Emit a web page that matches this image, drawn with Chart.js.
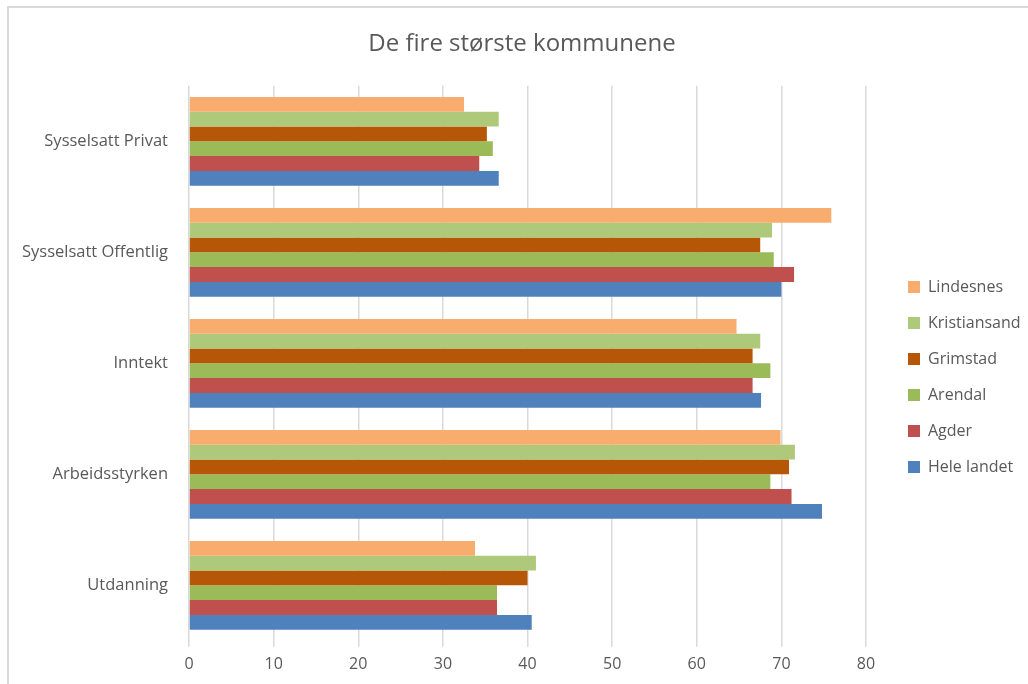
<!DOCTYPE html>
<html>
<head>
<meta charset="utf-8">
<script src="https://cdn.jsdelivr.net/npm/chart.js@4/dist/chart.umd.min.js"></script>
<style>
    html, body { margin: 0; padding: 0; background: #fff; }
    #wrap { position: relative; width: 1028px; height: 684px; overflow: hidden; }
    #frame { position: absolute; left: 7px; top: 6px; right: -10px; bottom: -10px; border: 2px solid #d9d9d9; }
    canvas { position: absolute; left: 0; top: 0; }
</style>
</head>
<body>
<div id="wrap">
    <div id="frame"></div>
    <canvas id="chart" width="1028" height="684"></canvas>
</div>
<script>
// Categories (top to bottom)
const categories = ['Sysselsatt Privat', 'Sysselsatt Offentlig', 'Inntekt', 'Arbeidsstyrken', 'Utdanning'];

// Series values, one per category
const lindesnes    = [32.5, 75.9, 64.7, 69.9, 33.8];
const kristiansand = [36.6, 68.9, 67.5, 71.6, 41.0];
const grimstad     = [35.2, 67.5, 66.6, 70.9, 40.0];
const arendal      = [35.9, 69.1, 68.7, 68.7, 36.4];
const agder        = [34.3, 71.5, 66.6, 71.2, 36.4];
const heleLandet   = [36.6, 70.0, 67.6, 74.8, 40.5];

const seriesNames = ['Lindesnes', 'Kristiansand', 'Grimstad', 'Arendal', 'Agder', 'Hele landet'];
const seriesData = [lindesnes, kristiansand, grimstad, arendal, agder, heleLandet];
const seriesColors = ['#f8ac6e', '#afc97b', '#b65708', '#9bbb59', '#c0504d', '#4f81bd'];

// Value axis ticks
const xTicks = [0, 10, 20, 30, 40, 50, 60, 70, 80];

const fontFamily = "'Open Sans', 'Noto Sans', sans-serif";
const textColor = '#595959';

const datasets = seriesNames.map((name, i) => ({
    label: name,
    data: seriesData[i],
    backgroundColor: seriesColors[i],
    borderWidth: 0,
    categoryPercentage: 0.8,
    barPercentage: 1.0
}));

// Keep the legend column wide and move it to where the reference has it
const legendPlace = {
    id: 'legendPlace',
    afterInit(chart) {
        const legend = chart.legend;
        const fit = legend.fit;
        legend.fit = function() {
            fit.call(this);
            this.width = 162;
        };
    },
    afterLayout(chart) {
        const legend = chart.legend;
        legend.left += 22;
        legend.right += 22;
        legend.top += 36;
        legend.bottom += 36;
        // title sits a little right of the canvas centre
        chart.titleBlock.left += 8;
        chart.titleBlock.right += 8;
    }
};

new Chart(document.getElementById('chart'), {
    type: 'bar',
    data: { labels: categories, datasets: datasets },
    options: {
        indexAxis: 'y',
        responsive: false,
        animation: false,
        layout: { padding: { left: 0, right: 0, top: 0, bottom: 2 } },
        scales: {
            x: {
                min: xTicks[0],
                max: xTicks[xTicks.length - 1],
                afterBuildTicks: scale => { scale.ticks = xTicks.map(v => ({ value: v })); },
                grid: { color: '#d9d9d9', lineWidth: 1.5, tickLength: 6, drawTicks: true, tickColor: '#d9d9d9' },
                border: { display: false },
                ticks: { color: textColor, font: { family: fontFamily, size: 16 }, padding: 8 }
            },
            y: {
                grid: { display: false },
                border: { display: false },
                afterFit: scale => { scale.width = 189; },
                ticks: { color: textColor, font: { family: fontFamily, size: 16.5 }, padding: 13 }
            }
        },
        plugins: {
            title: {
                display: true,
                text: 'De fire største kommunene',
                color: textColor,
                font: { family: fontFamily, size: 24, weight: 'normal' },
                padding: { top: 30, bottom: 27 }
            },
            legend: {
                position: 'right',
                labels: {
                    color: textColor,
                    font: { family: fontFamily, size: 16 },
                    boxWidth: 12,
                    boxHeight: 12,
                    padding: 20
                }
            },
            tooltip: { enabled: false }
        }
    },
    plugins: [legendPlace]
});
</script>
</body>
</html>
